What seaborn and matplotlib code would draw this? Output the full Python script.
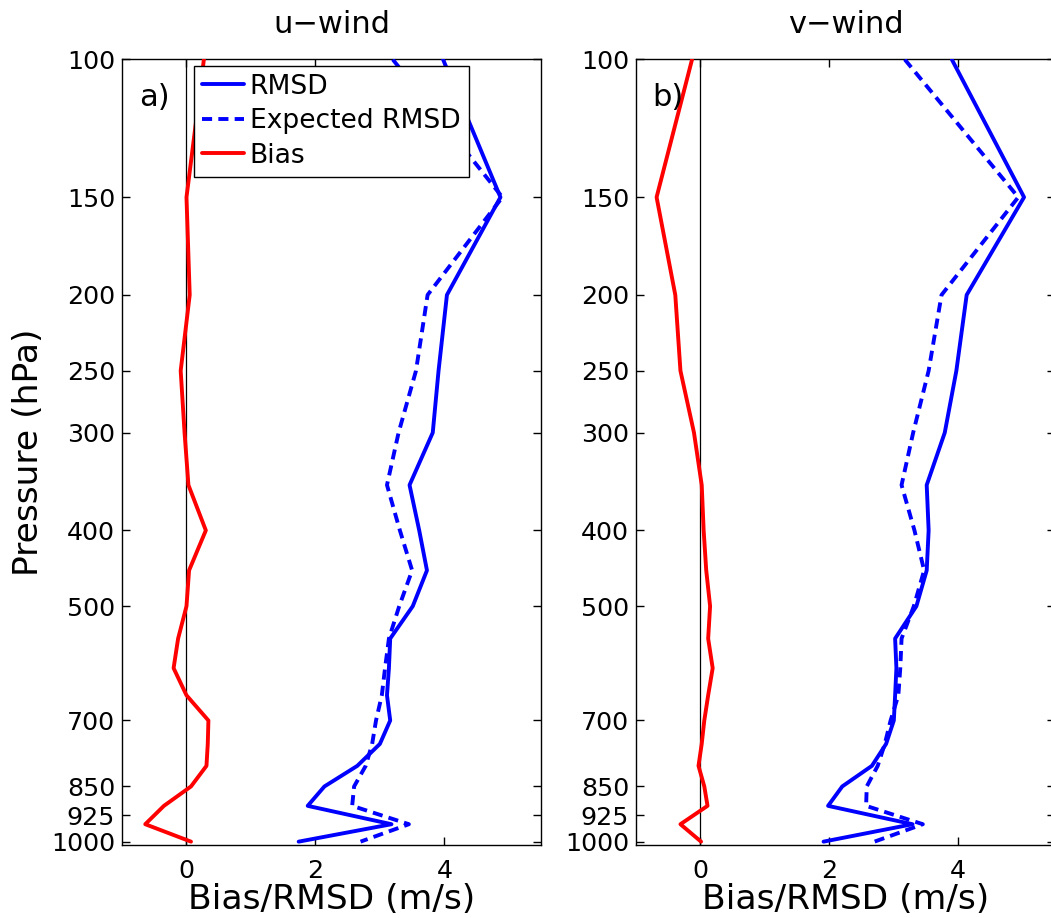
import numpy as np
import pandas as pd
import matplotlib
matplotlib.use("Agg")
import matplotlib.pyplot as plt
from matplotlib.ticker import FixedLocator, FixedFormatter, NullLocator
import seaborn as sns

# Pressure levels (hPa)
levels = [100, 150, 200, 250, 300, 350, 400, 450, 500, 550, 600, 650,
          700, 750, 800, 850, 900, 950, 1000]

# u-wind statistics (m/s)
u_rmsd = [3.98, 4.87, 4.04, 3.91, 3.82, 3.46, 3.61, 3.73, 3.51, 3.16, 3.14, 3.11,
          3.16, 3.00, 2.65, 2.14, 1.88, 3.18, 1.74]
u_expected = [3.20, 4.90, 3.74, 3.56, 3.29, 3.11, 3.31, 3.50, 3.30, 3.14, 3.08, 3.03,
              2.94, 2.88, 2.78, 2.60, 2.57, 3.45, 2.70]
u_bias = [0.27, 0.00, 0.05, -0.09, -0.03, 0.03, 0.30, 0.04, 0.00, -0.13, -0.20, 0.00,
          0.34, 0.33, 0.31, 0.07, -0.35, -0.64, 0.07]

# v-wind statistics (m/s)
v_rmsd = [3.90, 5.02, 4.13, 3.97, 3.79, 3.51, 3.54, 3.51, 3.35, 3.02, 3.04, 3.02,
          3.00, 2.88, 2.66, 2.20, 1.98, 3.29, 1.91]
v_expected = [3.17, 4.93, 3.74, 3.54, 3.30, 3.12, 3.32, 3.47, 3.31, 3.12, 3.10, 3.07,
              2.95, 2.86, 2.75, 2.58, 2.57, 3.45, 2.70]
v_bias = [-0.13, -0.68, -0.39, -0.31, -0.10, 0.02, 0.05, 0.09, 0.15, 0.12, 0.19, 0.12,
          0.06, 0.02, -0.03, 0.06, 0.11, -0.31, 0.01]

series_names = ["RMSD", "Expected RMSD", "Bias"]
panel_titles = ["u\u2212wind", "v\u2212wind"]
panel_tags = ["a)", "b)"]
pressure_ticks = [100, 150, 200, 250, 300, 400, 500, 700, 850, 925, 1000]
x_ticks = [0, 2, 4]

sns.set_theme(style="ticks")
plt.rcParams["font.family"] = ["DejaVu Sans"]
plt.rcParams.update({
    "axes.edgecolor": "black",
    "axes.linewidth": 1.0,
    "text.color": "black",
    "axes.labelcolor": "black",
    "xtick.color": "black",
    "ytick.color": "black",
    "axes.titlecolor": "black",
})

colors = {"RMSD": "#0000ff", "Expected RMSD": "#0000ff", "Bias": "#ff0000"}
dashes = {"RMSD": None, "Expected RMSD": (2.6, 1.6), "Bias": None}


def long_frame(rmsd, expected, bias):
    parts = []
    for name, vals in zip(series_names, [rmsd, expected, bias]):
        parts.append(pd.DataFrame({"pressure": levels, "value": vals, "series": name}))
    return pd.concat(parts, ignore_index=True)


frames = [long_frame(u_rmsd, u_expected, u_bias),
          long_frame(v_rmsd, v_expected, v_bias)]

fig = plt.figure(figsize=(10.51, 9.18), dpi=100)
axes = [fig.add_axes([0.1161, 0.0795, 0.3987, 0.8557]),
        fig.add_axes([0.6051, 0.0795, 0.3987, 0.8557])]

for i, (ax, df) in enumerate(zip(axes, frames)):
    ax.axvline(0, color="black", lw=0.9, zorder=1)
    for name in series_names:
        sub = df[df["series"] == name]
        sns.lineplot(data=sub, x="value", y="pressure", sort=False, estimator=None,
                     orient="y", color=colors[name], lw=2.8, label=name, ax=ax,
                     legend=False, zorder=3)
        line = ax.get_lines()[-1]
        if dashes[name] is not None:
            line.set_dashes(dashes[name])

    ax.set_yscale("log")
    ax.set_ylim(1010, 100)
    ax.set_xlim(-1, 5.5)
    ax.yaxis.set_major_locator(FixedLocator(pressure_ticks))
    ax.yaxis.set_major_formatter(FixedFormatter([str(p) for p in pressure_ticks]))
    ax.yaxis.set_minor_locator(NullLocator())
    ax.set_xticks(x_ticks)
    ax.set_xticklabels([str(t) for t in x_ticks])
    ax.tick_params(axis="both", which="major", direction="in", length=6,
                   width=1.0, labelsize=18.2, top=True, right=True, color="black")
    ax.tick_params(axis="x", pad=10)
    ax.tick_params(axis="y", pad=5)
    for sp in ax.spines.values():
        sp.set_visible(True)
        sp.set_color("black")
        sp.set_linewidth(1.0)

    ax.set_title(panel_titles[i], fontsize=22, pad=19)
    ax.set_xlabel("Bias/RMSD (m/s)", fontsize=24.8, labelpad=0)
    if i == 0:
        ax.set_ylabel("Pressure (hPa)", fontsize=24.8, labelpad=4.5)
    else:
        ax.set_ylabel("")
    ax.text(0.04, 0.951, panel_tags[i], transform=ax.transAxes, fontsize=22,
            ha="left", va="center")

handles = axes[0].get_lines()[1:4]
leg = axes[0].legend(handles, series_names, loc="upper left",
                     bbox_to_anchor=(0.172, 0.992), borderaxespad=0,
                     fontsize=19.1, frameon=True, fancybox=False, framealpha=1,
                     edgecolor="black", handlelength=1.6, handletextpad=0.2,
                     labelspacing=0.32, borderpad=0.3)
leg.get_frame().set_linewidth(1.0)
leg.set_zorder(5)

fig.savefig("out.png", dpi=100, facecolor="white")
